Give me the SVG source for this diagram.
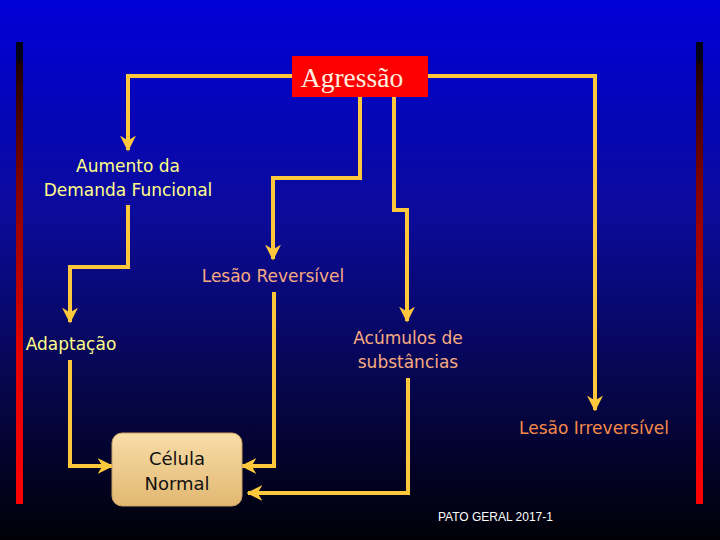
<svg xmlns="http://www.w3.org/2000/svg" width="720" height="540" viewBox="0 0 720 540">
<defs>
<linearGradient id="bg" x1="0" y1="0" x2="0" y2="1">
<stop offset="0" stop-color="#0000D8"/>
<stop offset="0.4" stop-color="#0B0B9A"/>
<stop offset="0.7" stop-color="#060650"/>
<stop offset="1" stop-color="#000006"/>
</linearGradient>
<linearGradient id="bar" x1="0" y1="0" x2="0" y2="1">
<stop offset="0" stop-color="#000018"/>
<stop offset="0.035" stop-color="#000018"/>
<stop offset="0.05" stop-color="#200000"/>
<stop offset="0.35" stop-color="#900000"/>
<stop offset="0.65" stop-color="#E00000"/>
<stop offset="1" stop-color="#FF0000"/>
</linearGradient>
<linearGradient id="cell" x1="0" y1="0" x2="0" y2="1">
<stop offset="0" stop-color="#F8DDA8"/>
<stop offset="1" stop-color="#E2B872"/>
</linearGradient>
<marker id="ah" viewBox="0 0 10 10" refX="9" refY="5" markerWidth="4" markerHeight="4" orient="auto" markerUnits="strokeWidth">
<path d="M0,0 L10,5 L0,10 L3,5 Z" fill="#FFC83C"/>
</marker>
<style>
.c{fill:none;stroke:#FFC83C;stroke-width:4;marker-end:url(#ah)}
.y{fill:#FFFF88;font-family:"DejaVu Sans",sans-serif;font-size:17px;text-anchor:middle}
.s{fill:#F8AA80;font-family:"DejaVu Sans",sans-serif;font-size:17px;text-anchor:middle}
.o{fill:#F58A48;font-family:"DejaVu Sans",sans-serif;font-size:17px;text-anchor:middle}
</style>
</defs>
<rect width="720" height="540" fill="url(#bg)"/>
<rect x="16" y="42" width="7" height="462" fill="url(#bar)"/>
<rect x="696" y="42" width="7" height="462" fill="url(#bar)"/>
<g id="connectors">
<polyline class="c" points="292,76 128,76 128,150"/>
<polyline class="c" points="360,97 360,178 273,178 273,259"/>
<polyline class="c" points="394,97 394,210 407,210 407,321"/>
<polyline class="c" points="428,76 595,76 595,410"/>
<polyline class="c" points="128,205 128,267 70,267 70,322"/>
<polyline class="c" points="70,360 70,466 112,466"/>
<polyline class="c" points="274,292 274,466 242,466"/>
<polyline class="c" points="408,378 408,493 248,493"/>
</g>
<g id="agressao">
<rect x="292" y="56" width="136" height="41" fill="#FF0000"/>
<text x="352" y="87" fill="#FFF0E0" font-family="Liberation Serif,serif" font-size="27.5" text-anchor="middle">Agressão</text>
</g>
<g id="aumento">
<text class="y" x="128" y="172">Aumento da</text>
<text class="y" x="128" y="196">Demanda Funcional</text>
</g>
<g id="lesao-reversivel">
<text class="s" x="273" y="282">Lesão Reversível</text>
</g>
<g id="adaptacao">
<text class="y" x="71" y="350">Adaptação</text>
</g>
<g id="acumulos">
<text class="s" x="408" y="344">Acúmulos de</text>
<text class="s" x="408" y="368">substâncias</text>
</g>
<g id="lesao-irreversivel">
<text class="o" x="594" y="434">Lesão Irreversível</text>
</g>
<g id="celula">
<rect x="112" y="433" width="130" height="73" rx="10" fill="url(#cell)" stroke="#C8A060" stroke-width="1"/>
<text x="177" y="465" fill="#111" font-family="DejaVu Sans,sans-serif" font-size="18" text-anchor="middle">Célula</text>
<text x="177" y="490" fill="#111" font-family="DejaVu Sans,sans-serif" font-size="18" text-anchor="middle">Normal</text>
</g>
<text x="438" y="521" fill="#FFFFFF" font-family="Liberation Sans,sans-serif" font-size="12">PATO GERAL 2017-1</text>
</svg>
